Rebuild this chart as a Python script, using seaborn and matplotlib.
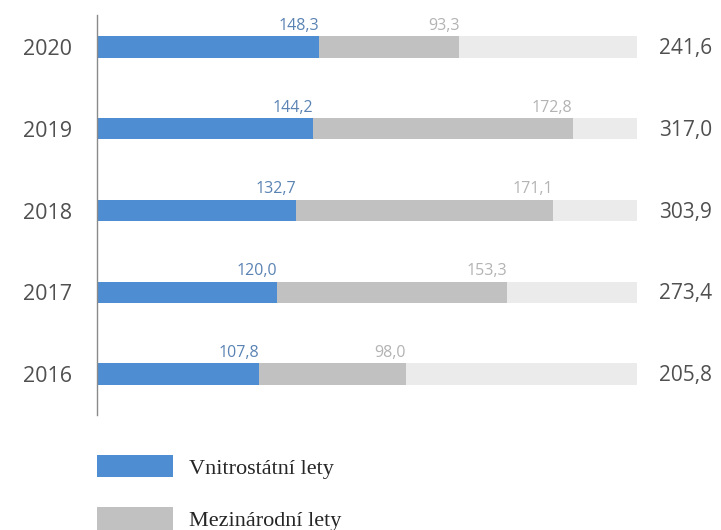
import pandas as pd
import matplotlib
matplotlib.use("Agg")
import matplotlib.pyplot as plt
import seaborn as sns
from matplotlib.patches import Patch

# Data
years = ["2020", "2019", "2018", "2017", "2016"]
domestic = [148.3, 144.2, 132.7, 120.0, 107.8]
international = [93.3, 172.8, 171.1, 153.3, 98.0]
totals = ["241,6", "317,0", "303,9", "273,4", "205,8"]
track_max = 360

df = pd.DataFrame({
    "year": years,
    "domestic": domestic,
    "international": international,
})
df["stack"] = df["domestic"] + df["international"]
df["track"] = [track_max] * len(years)

blue = "#4f8dd3"
grey = "#c1c1c1"
light = "#ebebeb"

sns.set_style("white")
plt.rcParams["font.family"] = ["Open Sans", "DejaVu Sans"]

fig = plt.figure(figsize=(7.21, 5.30), dpi=100)
ax = fig.add_axes([97 / 721, 1 - 415 / 530, (637 - 97) / 721, 400 / 530])

bw = 0.26
kw = dict(y="year", order=years, width=bw, ax=ax, saturation=1, linewidth=0)
sns.barplot(data=df, x="track", color=light, **kw)
sns.barplot(data=df, x="stack", color=grey, **kw)
sns.barplot(data=df, x="domestic", color=blue, **kw)

ax.set_xlim(0, track_max)
ax.set_ylim(4.5, -0.39)

# value labels
for i, row in df.iterrows():
    ax.text(row["domestic"], i - bw / 2 - 0.03, f"{row['domestic']:.1f}".replace(".", ","),
            ha="right", va="bottom", fontsize=11.5, color="#5a83b3")
    ax.text(row["stack"], i - bw / 2 - 0.03, f"{row['international']:.1f}".replace(".", ","),
            ha="right", va="bottom", fontsize=11.5, color="#b3b3b3")
    ax.text(track_max + 15, i + 0.02, totals[i], ha="left", va="center",
            fontsize=15, color="#505050", clip_on=False)

ax.set_xlabel("")
ax.set_ylabel("")
ax.set_xticks([])
ax.tick_params(axis="y", length=0, pad=18, labelsize=15.5, labelcolor="#505050")
for s in ["top", "right", "bottom"]:
    ax.spines[s].set_visible(False)
ax.spines["left"].set_color("#8a8a8a")
ax.spines["left"].set_linewidth(1)

handles = [Patch(facecolor=blue, edgecolor="none"), Patch(facecolor=grey, edgecolor="none")]
fig.legend(handles, ["Vnitrostátní lety", "Mezinárodní lety"],
           loc="upper left", bbox_to_anchor=(97 / 721, 1 - 455 / 530),
           frameon=False, borderpad=0, borderaxespad=0,
           handlelength=3.4, handleheight=1.15, handletextpad=0.75, labelspacing=1.3,
           prop={"family": "Liberation Serif", "size": 16})

fig.savefig("out.png", dpi=100)
